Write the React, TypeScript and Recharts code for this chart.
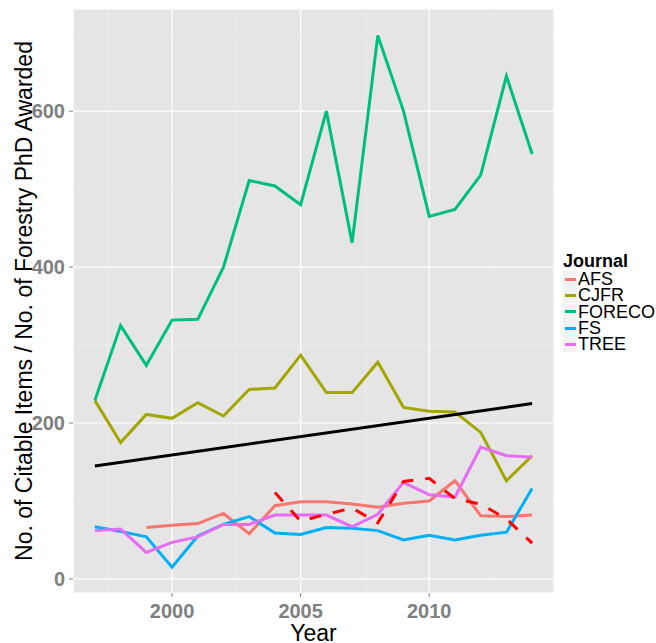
import {CartesianGrid, Legend, Line, LineChart, ReferenceLine, XAxis, YAxis} from "recharts";

const years = [1997, 1998, 1999, 2000, 2001, 2002, 2003, 2004, 2005, 2006, 2007, 2008, 2009, 2010, 2011, 2012, 2013, 2014];

const afs = [null, null, 66, 69, 71, 84, 58, 94, 99, 99, 96, 92, 97, 100, 126, 81, 80, 82];
const cjfr = [229, 175, 211, 206, 226, 209, 243, 245, 287, 239, 239, 278, 220, 215, 214, 188, 126, 158];
const foreco = [229, 325, 274, 332, 333, 400, 511, 504, 480, 600, 431, 697, 600, 465, 474, 518, 645, 545];
const fs = [67, 61, 54, 15, 55, 70, 80, 59, 57, 66, 65, 62, 50, 56, 50, 56, 60, 116];
const tree = [62, 64, 34, 47, 54, 70, 70, 82, 82, 82, 67, 83, 124, 108, 105, 169, 158, 156];
const phd = [null, null, null, null, null, null, null, 111, 74, 83, 91, 72, 125, 129, 103, 96, 77, 46];
// trend line, only the two ends
const trend = [145, null, null, null, null, null, null, null, null, null, null, null, null, null, null, null, null, 225];

const xTicks = [2000, 2005, 2010];
const xMinor = [1997.5, 2002.5, 2007.5, 2012.5];
const yTicks = [0, 200, 400, 600];
const yMinor = [100, 300, 500, 700];

const journals = [
    {key: "AFS", color: "#F8766D"},
    {key: "CJFR", color: "#A3A500"},
    {key: "FORECO", color: "#00BF7D"},
    {key: "FS", color: "#00B0F6"},
    {key: "TREE", color: "#E76BF3"},
];

const data = years.map((year, i) => ({
    year,
    AFS: afs[i],
    CJFR: cjfr[i],
    FORECO: foreco[i],
    FS: fs[i],
    TREE: tree[i],
    phd: phd[i],
    trend: trend[i],
}));

const FONT = "'Liberation Sans', Arial, sans-serif";
const tickStyle = {fill: "#7F7F7F", fontSize: 20, fontWeight: "bold", fontFamily: FONT};

function XTitle(props: any) {
    const {viewBox} = props;
    return (
        <text x={viewBox.x + viewBox.width / 2} y={viewBox.y + 48} textAnchor="middle" fontSize={23} fill="#000"
              fontFamily={FONT}>Year</text>
    );
}

function YTitle(props: any) {
    const {viewBox} = props;
    const x = 32;
    const y = viewBox.y + viewBox.height / 2;
    return (
        <text x={x} y={y} transform={`rotate(-90, ${x}, ${y})`} textAnchor="middle" fontSize={23} fill="#000"
              fontFamily={FONT}>No. of Citable Items / No. of Forestry PhD Awarded</text>
    );
}

function JournalLegend() {
    return (
        <div style={{fontFamily: FONT, color: "#000"}}>
            <div style={{fontWeight: "bold", fontSize: 18, lineHeight: "20px"}}>Journal</div>
            {journals.map((j) => (
                <div key={j.key} style={{display: "flex", alignItems: "center", height: 16.3}}>
                    <div style={{
                        width: 14, height: 16, background: "#F2F2F2", display: "flex",
                        alignItems: "center", justifyContent: "center", marginRight: 1
                    }}>
                        <div style={{width: 11, height: 3, background: j.color}}/>
                    </div>
                    <span style={{fontSize: 18, lineHeight: "16px"}}>{j.key}</span>
                </div>
            ))}
        </div>
    );
}

export default function App() {
    return (
        <div style={{position: "absolute", left: 0, top: 0, width: 656, height: 643, background: "#fff"}}>
            <LineChart width={656} height={643} data={data} margin={{top: 9, right: 102, bottom: 10, left: 0}}>
                <CartesianGrid fill="#E5E5E5" fillOpacity={1} stroke="#FFFFFF" strokeWidth={1.2}/>
                {xMinor.map((x) => (
                    <ReferenceLine key={`vx-${x}`} x={x} stroke="#F2F2F2" strokeWidth={0.6}/>
                ))}
                {yMinor.map((y) => (
                    <ReferenceLine key={`hy-${y}`} y={y} stroke="#F2F2F2" strokeWidth={0.6}/>
                ))}
                <XAxis dataKey="year" type="number" domain={[1996.15, 2014.85]} ticks={xTicks}
                       allowDataOverflow axisLine={false} tickLine={{stroke: "#7F7F7F"}} tickSize={4}
                       tickMargin={7} height={40} tick={tickStyle} label={<XTitle/>}/>
                <YAxis type="number" domain={[-18, 731]} ticks={yTicks} allowDataOverflow width={73}
                       axisLine={false} tickLine={{stroke: "#7F7F7F"}} tickSize={4} tickMargin={4}
                       tick={tickStyle} label={<YTitle/>}/>
                {journals.map((j) => (
                    <Line key={j.key} dataKey={j.key} stroke={j.color} strokeWidth={3} dot={false}
                          isAnimationActive={false} connectNulls={false}/>
                ))}
                <Line dataKey="phd" stroke="#FF0000" strokeWidth={3} strokeDasharray="12 12" dot={false}
                      isAnimationActive={false}/>
                <Line dataKey="trend" stroke="#000000" strokeWidth={3} dot={false} connectNulls
                      isAnimationActive={false}/>
                <Legend layout="vertical" align="center" verticalAlign="middle" content={<JournalLegend/>}
                        wrapperStyle={{left: 563, top: 251, width: 100}}/>
            </LineChart>
        </div>
    );
}
